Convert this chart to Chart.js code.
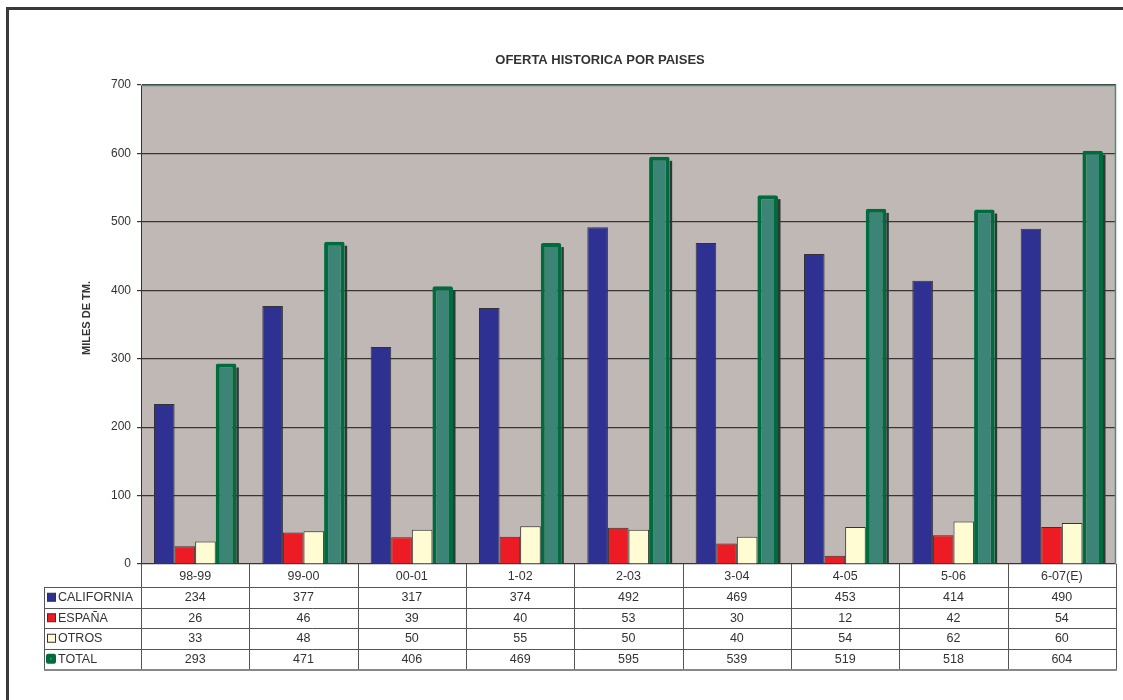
<!DOCTYPE html>
<html>
<head>
<meta charset="utf-8">
<script src="https://cdn.jsdelivr.net/npm/chart.js@4.4.0/dist/chart.umd.min.js"></script>
<style>
html,body{margin:0;padding:0;background:#fff;}
#wrap{width:1123px;height:700px;position:relative;}
</style>
</head>
<body>
<div id="wrap"><canvas id="c" width="1123" height="700"></canvas></div>
<script>
const categories = ['98-99','99-00','00-01','1-02','2-03','3-04','4-05','5-06','6-07(E)'];
const california = [234,377,317,374,492,469,453,414,490];
const espana = [26,46,39,40,53,30,12,42,54];
const otros = [33,48,50,55,50,40,54,62,60];
const total = [293,471,406,469,595,539,519,518,604];
const seriesNames = ['CALIFORNIA','ESPAÑA','OTROS','TOTAL'];
const yTicks = [0,100,200,300,400,500,600,700];
const chartTitle = 'OFERTA HISTORICA POR PAISES';
const yTitle = 'MILES DE TM.';

const colors = {
  ca: '#2e3192', es: '#ed1c24', ot: '#fffbd3', tot: '#3c8576', totBorder: '#006b3d'
};
const FONT = '"Liberation Sans", Arial, Helvetica, sans-serif';
const TXT = '#333333';

const rowTop = 564, headerBottom = 587, rowH = 20.5, tableLeft = 44;

const customPlugin = {
  id: 'custom',
  beforeDraw(chart) {
    const ctx = chart.ctx, a = chart.chartArea;
    ctx.save();
    ctx.fillStyle = '#fff';
    ctx.fillRect(0, 0, chart.width, chart.height);
    ctx.strokeStyle = '#3a3a3a';
    ctx.lineWidth = 3;
    ctx.beginPath();
    ctx.moveTo(7.5, 710);
    ctx.lineTo(7.5, 8.5);
    ctx.lineTo(1130, 8.5);
    ctx.stroke();
    ctx.fillStyle = '#c0b8b5';
    ctx.fillRect(a.left, a.top, a.right - a.left, a.bottom - a.top);
    ctx.restore();
  },
  beforeDatasetsDraw(chart) {
    // dark side shadow of the TOTAL bars
    const ctx = chart.ctx;
    const meta = chart.getDatasetMeta(3);
    ctx.save();
    ctx.fillStyle = '#2b3a36';
    meta.data.forEach(el => {
      const right = el.x + el.width / 2;
      ctx.fillRect(right, el.y + 4, 2.5, el.base - el.y - 4);
    });
    ctx.restore();
  },
  afterDraw(chart) {
    const ctx = chart.ctx, a = chart.chartArea, xs = chart.scales.x;
    ctx.save();
    ctx.strokeStyle = '#4a8c80';
    ctx.lineWidth = 1.5;
    ctx.beginPath();
    ctx.moveTo(a.left, a.top + 0.5);
    ctx.lineTo(a.right - 0.5, a.top + 0.5);
    ctx.lineTo(a.right - 0.5, a.bottom);
    ctx.stroke();
    ctx.fillStyle = TXT;
    ctx.font = 'bold 13px ' + FONT;
    ctx.textAlign = 'center';
    ctx.textBaseline = 'middle';
    ctx.fillText(chartTitle, 600, 60);
    ctx.save();
    ctx.translate(87, 318);
    ctx.rotate(-Math.PI / 2);
    ctx.font = 'bold 11px ' + FONT;
    ctx.fillText(yTitle, 0, 0);
    ctx.restore();

    const n = categories.length;
    const step = (a.right - a.left) / n;
    const bounds = [];
    for (let i = 0; i <= n; i++) bounds.push(a.left + step * i);
    const rows = [california, espana, otros, total];
    const tableBottom = headerBottom + rowH * 4;
    ctx.strokeStyle = '#555';
    ctx.lineWidth = 1;
    ctx.beginPath();
    bounds.forEach(b => {
      const x = Math.round(b) + 0.5;
      ctx.moveTo(x, rowTop);
      ctx.lineTo(x, tableBottom);
    });
    ctx.moveTo(tableLeft + 0.5, headerBottom);
    ctx.lineTo(tableLeft + 0.5, tableBottom);
    for (let r = 0; r < 4; r++) {
      const y = Math.round(headerBottom + rowH * r) + 0.5;
      ctx.moveTo(tableLeft, y);
      ctx.lineTo(Math.round(a.right) + 1, y);
    }
    ctx.stroke();
    ctx.strokeStyle = '#888';
    ctx.lineWidth = 2;
    ctx.beginPath();
    ctx.moveTo(tableLeft, Math.round(tableBottom) + 1);
    ctx.lineTo(Math.round(a.right) + 1, Math.round(tableBottom) + 1);
    ctx.stroke();

    ctx.fillStyle = TXT;
    ctx.font = '12.5px ' + FONT;
    ctx.textAlign = 'center';
    ctx.textBaseline = 'middle';
    categories.forEach((c, i) => {
      ctx.fillText(c, xs.getPixelForValue(i), (rowTop + headerBottom) / 2 + 1);
    });
    rows.forEach((arr, r) => {
      const yc = headerBottom + rowH * r + rowH / 2 + 0.5;
      arr.forEach((v, i) => ctx.fillText(String(v), xs.getPixelForValue(i), yc));
    });
    const keyFill = [colors.ca, colors.es, colors.ot, colors.tot];
    ctx.textAlign = 'left';
    seriesNames.forEach((name, r) => {
      const yc = headerBottom + rowH * r + rowH / 2 + 0.5;
      if (r === 3) {
        ctx.fillStyle = colors.totBorder;
        ctx.beginPath();
        if (ctx.roundRect) ctx.roundRect(46, yc - 5.5, 10, 10, 2); else ctx.rect(46, yc - 5.5, 10, 10);
        ctx.fill();
        ctx.fillStyle = '#3a8276';
        ctx.fillRect(50, yc - 1.5, 2, 2);
      } else {
        ctx.fillStyle = keyFill[r];
        ctx.fillRect(47.5, yc - 4.5, 8, 8);
        ctx.strokeStyle = '#333';
        ctx.lineWidth = 1;
        ctx.strokeRect(47.5, yc - 4.5, 8, 8);
      }
      ctx.fillStyle = TXT;
      ctx.fillText(name, 58, yc);
    });
    ctx.restore();
  }
};

new Chart(document.getElementById('c'), {
  type: 'bar',
  data: {
    labels: categories,
    datasets: [
      { label: seriesNames[0], data: california, backgroundColor: colors.ca, borderColor: '#333', borderWidth: 1 },
      { label: seriesNames[1], data: espana, backgroundColor: colors.es, borderColor: '#333', borderWidth: 1 },
      { label: seriesNames[2], data: otros, backgroundColor: colors.ot, borderColor: '#333', borderWidth: 1 },
      { label: seriesNames[3], data: total, backgroundColor: colors.tot, borderColor: colors.totBorder, borderWidth: 4, borderRadius: 2, borderSkipped: 'bottom' }
    ]
  },
  options: {
    responsive: false,
    animation: false,
    events: [],
    layout: { padding: { left: 60, right: 7, top: 85, bottom: 136 } },
    datasets: { bar: { categoryPercentage: 0.76, barPercentage: 1.0 } },
    plugins: { legend: { display: false }, title: { display: false }, tooltip: { enabled: false } },
    scales: {
      x: { display: false, offset: true, grid: { display: false } },
      y: {
        min: 0, max: 700,
        afterBuildTicks(scale) { scale.ticks = yTicks.map(v => ({ value: v })); },
        afterFit(scale) { scale.width = 81; },
        ticks: { color: TXT, font: { family: FONT, size: 12 }, padding: 6 },
        grid: { color: '#3a3434', lineWidth: 1.2, tickLength: 4, drawTicks: true, tickColor: '#3a3434' },
        border: { display: true, color: '#333', width: 1 }
      }
    }
  },
  plugins: [customPlugin]
});
</script>
</body>
</html>
